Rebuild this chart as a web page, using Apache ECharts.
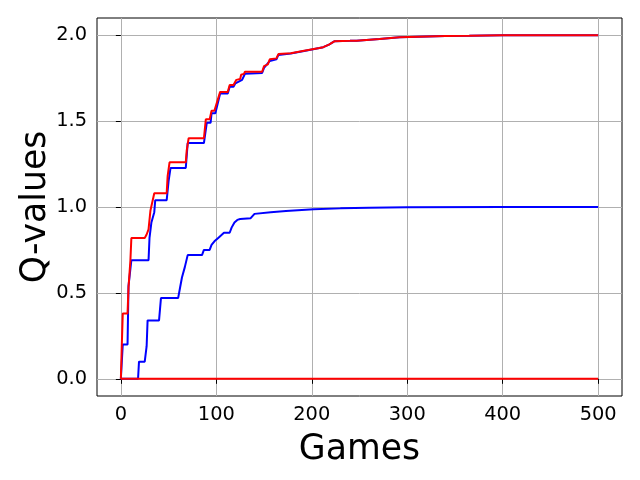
<!DOCTYPE html>
<html>
<head>
<meta charset="utf-8">
<script src="https://cdn.jsdelivr.net/npm/echarts@6/dist/echarts.min.js"></script>
<style>html,body{margin:0;padding:0;background:#fff}#c{width:640px;height:480px}</style>
</head>
<body>
<div id="c"></div>
<script>
// Tick values
var xTicks = [0, 100, 200, 300, 400, 500];
var yTicks = [0, 0.5, 1.0, 1.5, 2.0];

// Blue upper line (converges to 2)
var blueTopGames = [0, 2, 7, 8, 11, 29, 30, 32, 35, 36, 48, 50, 52, 68, 70, 87, 90, 94, 95, 99, 104, 112, 114, 118, 120, 127, 130, 148, 150, 156, 163, 165, 178, 180, 192, 194, 208, 212, 218, 224, 240, 247, 271, 292, 340, 365, 400, 500];
var blueTopQ =     [0, 0.2, 0.2, 0.54, 0.69, 0.69, 0.82, 0.91, 0.97, 1.04, 1.04, 1.15, 1.227, 1.227, 1.372, 1.372, 1.49, 1.49, 1.545, 1.545, 1.66, 1.66, 1.70, 1.70, 1.72, 1.74, 1.775, 1.78, 1.81, 1.85, 1.86, 1.885, 1.893, 1.903, 1.908, 1.917, 1.925, 1.93, 1.945, 1.965, 1.967, 1.968, 1.978, 1.988, 1.995, 1.997, 2.0, 2.0];

// Blue middle line (converges to 1)
var blueMidGames = [0, 18, 19, 25, 27, 28, 40, 42, 60, 62, 64, 67, 70, 85, 87, 93, 95, 98, 102, 108, 114, 116, 119, 122, 125, 136, 140, 157, 173, 202, 230, 260, 300, 400, 500];
var blueMidQ =     [0, 0, 0.1, 0.1, 0.19, 0.34, 0.34, 0.47, 0.47, 0.53, 0.59, 0.65, 0.72, 0.72, 0.75, 0.75, 0.78, 0.80, 0.82, 0.85, 0.85, 0.88, 0.91, 0.925, 0.93, 0.935, 0.96, 0.97, 0.977, 0.987, 0.992, 0.995, 0.998, 1.0, 1.0];

// Red upper line (converges to 2)
var redTopGames = [0, 1, 2, 7, 8, 10, 11, 25, 27, 29, 31, 35, 48, 49, 51, 68, 69, 71, 87, 89, 93, 95, 98, 104, 112, 114, 118, 121, 125, 126, 129, 130, 148, 150, 154, 156, 163, 165, 178, 180, 192, 194, 208, 212, 218, 224, 240, 247, 271, 292, 340, 365, 400, 500];
var redTopQ =     [0, 0.2, 0.38, 0.38, 0.53, 0.69, 0.82, 0.82, 0.84, 0.87, 0.98, 1.08, 1.08, 1.18, 1.26, 1.26, 1.33, 1.40, 1.40, 1.51, 1.51, 1.56, 1.56, 1.67, 1.67, 1.71, 1.71, 1.74, 1.745, 1.77, 1.775, 1.787, 1.787, 1.82, 1.83, 1.86, 1.865, 1.89, 1.895, 1.905, 1.91, 1.918, 1.925, 1.93, 1.945, 1.965, 1.967, 1.968, 1.978, 1.988, 1.995, 1.997, 2.0, 2.0];

// Red bottom line (stays at 0)
var redZeroGames = [0, 500];
var redZeroQ = [0, 0];

function zip(xs, ys) { return xs.map(function (x, i) { return [x, ys[i]]; }); }

var chart = echarts.init(document.getElementById('c'), null, { renderer: 'canvas' });
var font = 'DejaVu Sans';
var lineBase = { type: 'line', symbol: 'none', silent: true, animation: false, smooth: false };
chart.setOption({
  animation: false,
  backgroundColor: '#ffffff',
  grid: { left: 97, right: 18, top: 18, bottom: 84, containLabel: false, outerBoundsMode: 'none', show: true, borderColor: '#000', borderWidth: 1, backgroundColor: 'transparent' },
  xAxis: {
    type: 'value', min: -25, max: 525,
    name: 'Games', nameLocation: 'middle', nameGap: 36,
    nameTextStyle: { fontFamily: font, fontSize: 34.7, color: '#000' },
    axisLine: { show: false },
    axisTick: { show: true, inside: false, length: 5, lineStyle: { color: '#000', width: 1 }, customValues: xTicks },
    axisLabel: { margin: 9, fontFamily: font, fontSize: 19.4, color: '#000', customValues: xTicks, formatter: function (v) { return String(v); } },
    splitLine: { show: true, lineStyle: { color: '#b0b0b0', width: 1 } }
  },
  yAxis: {
    type: 'value', min: -0.1, max: 2.1,
    name: 'Q-values', nameLocation: 'middle', nameGap: 44, nameMoveOverlap: false,
    nameTextStyle: { fontFamily: font, fontSize: 34.7, color: '#000' },
    axisLine: { show: false },
    axisTick: { show: true, inside: false, length: 5, lineStyle: { color: '#000', width: 1 }, customValues: yTicks },
    axisLabel: { margin: 10, fontFamily: font, fontSize: 19.4, color: '#000', customValues: yTicks, formatter: function (v) { return v.toFixed(1); } },
    splitLine: { show: true, lineStyle: { color: '#b0b0b0', width: 1 } }
  },
  series: [
    Object.assign({}, lineBase, { name: 'blueTop', data: zip(blueTopGames, blueTopQ), lineStyle: { color: '#0000ff', width: 2 }, itemStyle: { color: '#0000ff' } }),
    Object.assign({}, lineBase, { name: 'blueMid', data: zip(blueMidGames, blueMidQ), lineStyle: { color: '#0000ff', width: 2 }, itemStyle: { color: '#0000ff' } }),
    Object.assign({}, lineBase, { name: 'redTop', data: zip(redTopGames, redTopQ), lineStyle: { color: '#ff0000', width: 2 }, itemStyle: { color: '#ff0000' } }),
    Object.assign({}, lineBase, { name: 'redZero', data: zip(redZeroGames, redZeroQ), lineStyle: { color: '#ff0000', width: 2 }, itemStyle: { color: '#ff0000' } })
  ]
});
</script>
</body>
</html>
